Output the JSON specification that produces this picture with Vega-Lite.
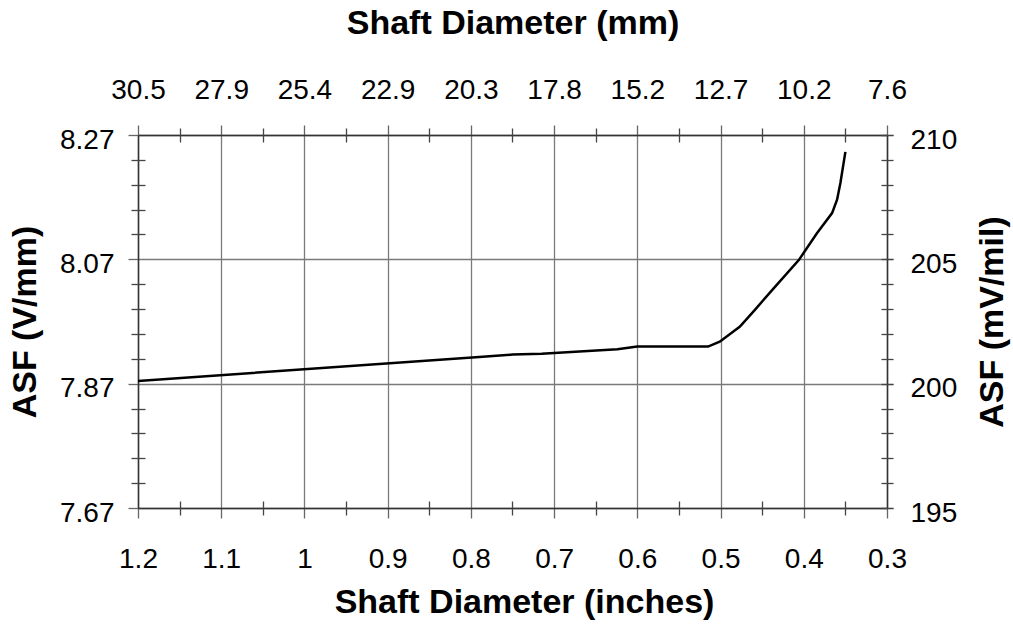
{
  "$schema": "https://vega.github.io/schema/vega-lite/v6.json",
  "autosize": {"type": "none"},
  "padding": {"left": 138, "top": 135, "right": 126, "bottom": 126},
  "width": 749,
  "height": 373,
  "background": "white",
  "config": {
    "font": "Liberation Sans",
    "view": {"stroke": null},
    "axis": {
      "labelFont": "Liberation Sans",
      "labelFontSize": 28,
      "labelColor": "black",
      "labelOverlap": false,
      "labelFlush": false,
      "titleFont": "Liberation Sans",
      "titleFontSize": 34,
      "titleFontWeight": "bold",
      "titleColor": "black",
      "domainColor": "#333",
      "domainWidth": 1.5,
      "tickColor": "#444",
      "tickWidth": 1.3,
      "gridColor": "#7a7a7a",
      "gridWidth": 1.3
    }
  },
  "datasets": {
    "asf": [
      {"inches": 1.2, "mv_mil": 200.11},
      {"inches": 0.79, "mv_mil": 201.07},
      {"inches": 0.75, "mv_mil": 201.17},
      {"inches": 0.715, "mv_mil": 201.2},
      {"inches": 0.624, "mv_mil": 201.38},
      {"inches": 0.60, "mv_mil": 201.49},
      {"inches": 0.515, "mv_mil": 201.49},
      {"inches": 0.501, "mv_mil": 201.69},
      {"inches": 0.485, "mv_mil": 202.09},
      {"inches": 0.477, "mv_mil": 202.29},
      {"inches": 0.459, "mv_mil": 202.96},
      {"inches": 0.437, "mv_mil": 203.8},
      {"inches": 0.406, "mv_mil": 204.97},
      {"inches": 0.384, "mv_mil": 206.06},
      {"inches": 0.366, "mv_mil": 206.86},
      {"inches": 0.360, "mv_mil": 207.4},
      {"inches": 0.356, "mv_mil": 208.07},
      {"inches": 0.350, "mv_mil": 209.32}
    ]
  },
  "resolve": {"scale": {"x": "independent", "y": "independent"}},
  "layer": [
    {
      "data": {"name": "asf"},
      "mark": {"type": "line", "color": "black", "strokeWidth": 2.5, "clip": true},
      "encoding": {
        "x": {
          "field": "inches", "type": "quantitative",
          "scale": {"domain": [0.3, 1.2], "reverse": true, "zero": false, "nice": false},
          "axis": {
            "orient": "bottom",
            "values": [0.3, 0.4, 0.5, 0.6, 0.7, 0.8, 0.9, 1.0, 1.1, 1.2],
            "format": ".1~f",
            "grid": true,
            "ticks": true,
            "tickSize": 10,
            "tickColor": "#666",
            "labelPadding": 27,
            "title": "Shaft Diameter (inches)",
            "titleBaseline": "alphabetic",
            "titleY": 104,
            "titleX": 386
          }
        },
        "y": {
          "field": "mv_mil", "type": "quantitative",
          "scale": {"domain": [195, 210], "zero": false, "nice": false},
          "axis": {
            "orient": "right",
            "values": [195, 200, 205, 210],
            "grid": true,
            "ticks": true,
            "tickSize": 6,
            "labelPadding": 17,
            "labelOffset": 5,
            "title": "ASF (mV/mil)",
            "titleAngle": 270,
            "titleBaseline": "alphabetic",
            "titleX": 115
          }
        }
      }
    },
    {
      "data": {"values": [{"k": 1}]},
      "mark": {"type": "point", "opacity": 0},
      "encoding": {
        "x": {
          "datum": 20, "type": "quantitative",
          "scale": {"domain": [7.62, 30.48], "reverse": true, "zero": false, "nice": false},
          "axis": {
            "orient": "top",
            "values": [30.48, 27.94, 25.4, 22.86, 20.32, 17.78, 15.24, 12.7, 10.16, 7.62],
            "format": ".1f",
            "grid": false,
            "ticks": true,
            "tickSize": 10,
            "tickColor": "#666",
            "labelPadding": 21,
            "title": "Shaft Diameter (mm)",
            "titleBaseline": "alphabetic",
            "titleY": -102
          }
        },
        "y": {
          "datum": 7.9, "type": "quantitative",
          "scale": {"domain": [7.67, 8.27], "zero": false, "nice": false},
          "axis": {
            "orient": "left",
            "values": [7.67, 7.87, 8.07, 8.27],
            "format": ".2f",
            "grid": false,
            "ticks": true,
            "tickSize": 10,
            "tickColor": "#666",
            "labelPadding": 14,
            "labelOffset": 5,
            "title": "ASF (V/mm)",
            "titleAngle": 270,
            "titleBaseline": "alphabetic",
            "titleX": -103
          }
        }
      }
    },
    {
      "data": {"values": [{"k": 1}]},
      "mark": {"type": "point", "opacity": 0},
      "encoding": {
        "x": {
          "datum": 0.5, "type": "quantitative",
          "scale": {"domain": [0.3, 1.2], "reverse": true, "zero": false, "nice": false},
          "axis": {
            "orient": "bottom",
            "values": [0.35, 0.45, 0.55, 0.65, 0.75, 0.85, 0.95, 1.05, 1.15],
            "labels": false, "domain": false, "grid": false,
            "ticks": true, "tickSize": 14, "offset": -7,
            "title": null
          }
        },
        "y": {
          "datum": 200, "type": "quantitative",
          "scale": {"domain": [195, 210], "zero": false, "nice": false},
          "axis": {
            "orient": "right",
            "values": [195, 196, 197, 198, 199, 200, 201, 202, 203, 204, 205, 206, 207, 208, 209, 210],
            "labels": false, "domain": false, "grid": false,
            "ticks": true, "tickSize": 12, "offset": -6,
            "title": null
          }
        }
      }
    },
    {
      "data": {"values": [{"k": 1}]},
      "mark": {"type": "point", "opacity": 0},
      "encoding": {
        "x": {
          "datum": 0.5, "type": "quantitative",
          "scale": {"domain": [0.3, 1.2], "reverse": true, "zero": false, "nice": false},
          "axis": {
            "orient": "top",
            "values": [0.35, 0.45, 0.55, 0.65, 0.75, 0.85, 0.95, 1.05, 1.15],
            "labels": false, "domain": false, "grid": false,
            "ticks": true, "tickSize": 14, "offset": -7,
            "title": null
          }
        },
        "y": {
          "datum": 200, "type": "quantitative",
          "scale": {"domain": [195, 210], "zero": false, "nice": false},
          "axis": {
            "orient": "left",
            "values": [196, 197, 198, 199, 201, 202, 203, 204, 206, 207, 208, 209],
            "labels": false, "domain": false, "grid": false,
            "ticks": true, "tickSize": 14, "offset": -7,
            "title": null
          }
        }
      }
    }
  ]
}
